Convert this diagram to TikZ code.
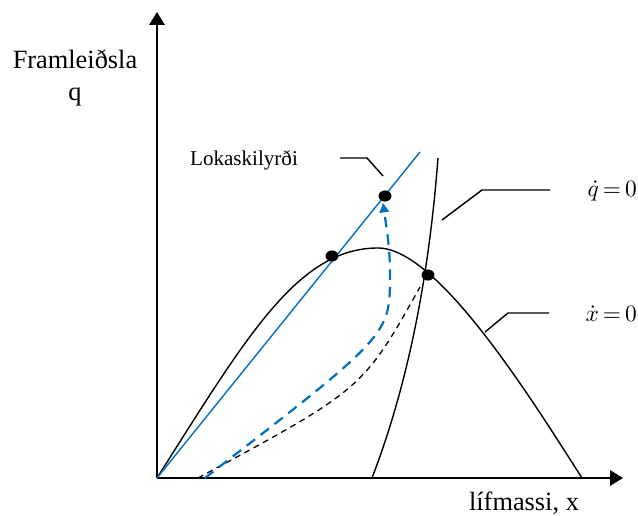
\documentclass[tikz,border=0pt]{standalone}
\usepackage{fontspec}
\usepackage{graphicx}
\setmainfont{Liberation Serif}
\usetikzlibrary{arrows.meta, positioning, shapes.geometric}

\definecolor{pathblue}{RGB}{0,112,192}

\begin{document}
\begin{tikzpicture}[x=0.03cm, y=-0.03cm,
    axis/.style={line width=1.9pt, -{Triangle[length=11pt, width=13pt]}},
    curve/.style={line width=1.2pt},
    leader/.style={line width=1.2pt},
    bigtext/.style={font=\fontsize{22.5}{26.5}\selectfont, inner sep=0pt},
    smalltext/.style={font=\fontsize{18}{22}\selectfont, inner sep=0pt},
    mathtext/.style={inner sep=0pt, anchor=east},
    dot/.style={ellipse, fill=black, inner sep=0pt, minimum width=11pt, minimum height=9.5pt}]
    \useasboundingbox (0,0) rectangle (638,516);
    % Axes
    \coordinate (O) at (157,478);
    \coordinate (ytip) at (157,12);
    \coordinate (xtip) at (623,478);
    \draw[axis] (O) -- (ytip);
    \draw[axis] (O) -- (xtip);
    \node[bigtext, align=center] (ylabel) at (75,78) {Framleiðsla\\q};
    \node[bigtext] (xlabel) at (524,503) {lífmassi, x};
    % xdot = 0 curve
    \coordinate (hump) at (378,248);
    \coordinate (xend) at (582,478);
    \draw[curve] (O) .. controls (247,336) and (298,248) .. (hump)
        .. controls (438,248) and (532,400) .. (xend);
    % qdot = 0 curve
    \coordinate (qbot) at (372,478);
    \coordinate (qtop) at (438,158);
    \draw[curve] (qbot) .. controls (412,374) and (430,262) .. (qtop);
    % Terminal condition line
    \coordinate (lineend) at (420,152);
    \draw[pathblue, line width=1.2pt] (O) -- (lineend);
    % Dots
    \node[dot] (dleft) at (332,256) {};
    \node[dot] (dtop) at (385,196) {};
    \node[dot] (dright) at (428,275) {};
    % Paths towards the steady state and the terminal condition
    \coordinate (bstart) at (198,478);
    \coordinate (wstart) at (205,478);
    \coordinate (wturn) at (390,275);
    \coordinate (wtip) at (383,203);
    \draw[line width=1.1pt, dash pattern=on 5pt off 4pt] (bstart) .. controls (363,389) .. (420,287);
    \draw[pathblue, line width=1.9pt, dash pattern=on 9pt off 6pt, -{Triangle[length=8pt, width=8pt]}]
        (wstart) .. controls (390,335) .. (wturn) .. controls (390,245) and (386,225) .. (wtip);
    % Labels with leaders
    \node[smalltext] (lok) at (244,160) {Lokaskilyrði};
    \coordinate (lokA) at (340,158);
    \coordinate (lokB) at (367,158);
    \coordinate (lokC) at (383,176);
    \draw[leader] (lokA) -- (lokB) -- (lokC);
    \node[mathtext] (qlab) at (637,191) {\scalebox{2}{$\dot{q}\,{=}\,0$}};
    \coordinate (qA) at (442,220);
    \coordinate (qB) at (482,190);
    \coordinate (qC) at (550,190);
    \draw[leader] (qA) -- (qB) -- (qC);
    \node[mathtext] (xlab) at (637,314) {\scalebox{2}{$\dot{x}\,{=}\,0$}};
    \coordinate (xA) at (485,332);
    \coordinate (xB) at (508,313);
    \coordinate (xC) at (549,313);
    \draw[leader] (xA) -- (xB) -- (xC);
\end{tikzpicture}
\end{document}
